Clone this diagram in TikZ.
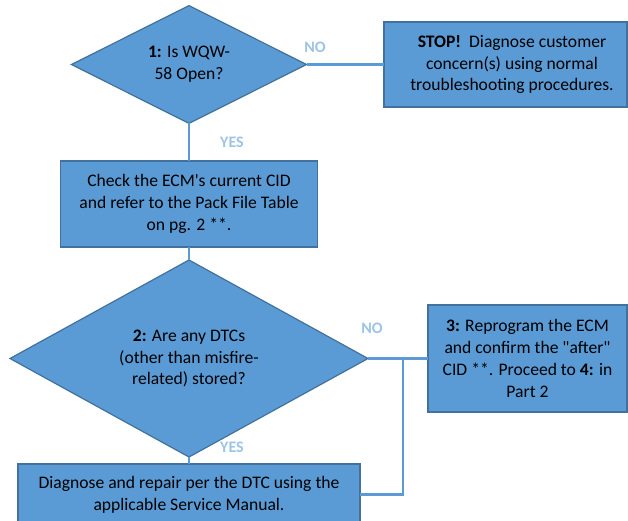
\documentclass[tikz,border=0pt]{standalone}
\usepackage{fontspec}
\newfontfamily\carl{Carlito}
\usetikzlibrary{shapes.geometric}
\definecolor{fillblue}{HTML}{5B9BD5}
\definecolor{edgeblue}{HTML}{41719C}
\definecolor{lineblue}{HTML}{5B9BD5}
\definecolor{lblblue}{HTML}{9DC3E6}
\begin{document}
\begin{tikzpicture}[x=1pt,y=-1pt,
  box/.style={draw=edgeblue, fill=fillblue, line width=1.2pt, inner sep=0pt, outer sep=0pt, align=center, font=\carl\fontsize{17.6}{21.7}\selectfont},
  dec/.style={diamond, draw=edgeblue, fill=fillblue, line width=1.2pt, inner sep=0pt, outer sep=0pt, align=center, font=\carl\fontsize{17.6}{21.7}\selectfont},
  conn/.style={draw=lineblue, line width=2.8pt},
  lbl/.style={text=lblblue, font=\carl\fontsize{16}{18}\selectfont\bfseries}]
\useasboundingbox (0,0) rectangle (628,521);
\clip (0,0) rectangle (628,521);
\node[dec, minimum width=235, minimum height=113] (d1) at (189,64.5) {\textbf{1:} Is WQW-\\58 Open?};
\node[box, minimum width=243, minimum height=85] (stop) at (505.5,64.5) {\hspace*{13pt}\textbf{STOP!}\ \ Diagnose customer\\\hspace*{13pt}concern(s) using normal\\\hspace*{13pt}troubleshooting procedures.};
\node[box, minimum width=257, minimum height=86] (check) at (189,204) {Check the ECM's current CID\\and refer to the Pack File Table\\on pg. 2 **.};
\node[dec, minimum width=358, minimum height=153] (d2) at (189,358.5) {\textbf{2:} Are any DTCs\\(other than misfire-\\related) stored?};
\node[box, minimum width=199, minimum height=107] (b3) at (527.5,358.5) {\textbf{3:} Reprogram the ECM\\and confirm the "after"\\CID **. Proceed to \textbf{4:} in\\Part 2};
\node[box, minimum width=342, minimum height=61] (diag) at (189,494.5) {Diagnose and repair per the DTC using the\\applicable Service Manual.};
\coordinate (j1) at (403,358.5);
\draw[conn] (d1.east) -- (stop.west);
\draw[conn] (d1.south) -- (check.north);
\draw[conn] (check.south) -- (d2.north);
\draw[conn] (d2.south) -- (diag.north);
\draw[conn] (d2.east) -- (b3.west);
\draw[conn] (j1) |- (diag.east);
\node[lbl] (no1) at (315,47) {NO};
\node[lbl] (yes1) at (232,142) {YES};
\node[lbl] (no2) at (372,328) {NO};
\node[lbl] (yes2) at (232,447) {YES};
\end{tikzpicture}
\end{document}
